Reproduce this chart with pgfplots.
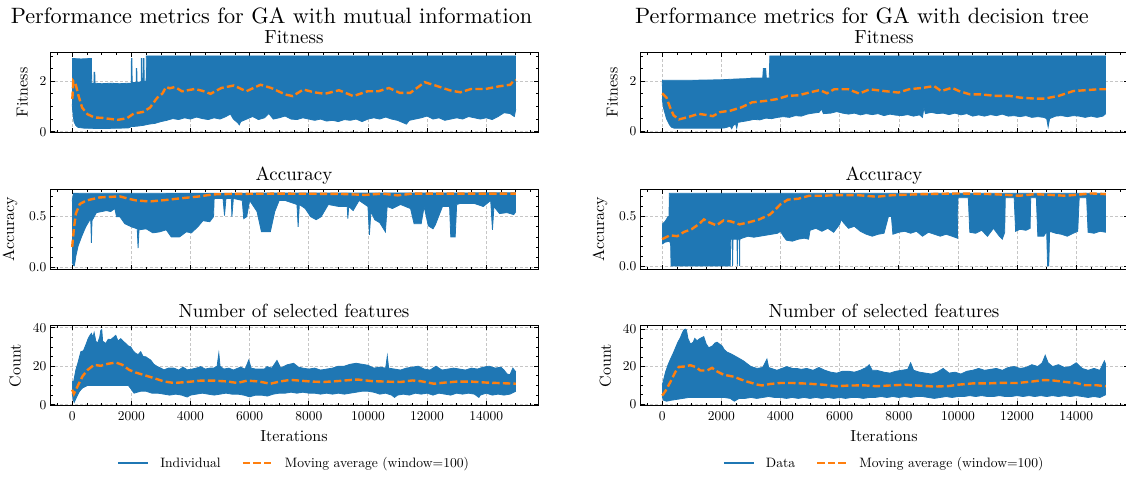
\documentclass[border=0pt]{standalone}
\DeclareFontFamily{TU}{lmten}{}
\DeclareFontShape{TU}{lmten}{m}{n}{<-> "[lmroman10-regular]"}{}
\renewcommand\rmdefault{lmten}
\usepackage{pgfplots}
\pgfplotsset{compat=1.18}
\usepgfplotslibrary{fillbetween}
\definecolor{tabblue}{HTML}{1F77B4}
\definecolor{taborange}{HTML}{FF7F0E}
\pgfplotsset{
 myax/.style={
  scale only axis, width=488pt, height=80pt,
  xmin=-750, xmax=15750,
  xtick={0,2000,...,14000},
  minor xtick={-500,0,...,15500},
  xticklabels={},
  scaled ticks=false,
  tick align=inside, xtick pos=both, ytick pos=both,
  major tick length=4.5pt, minor tick length=2.5pt,
  tick style={black, line width=0.7pt},
  axis line style={line width=0.9pt},
  xmajorgrids, ymajorgrids,
  major grid style={gray!45, dash pattern=on 3pt off 2pt, line width=0.6pt},
  tick label style={font=\fontsize{13.5}{16}\selectfont},
  label style={font=\fontsize{16}{19}\selectfont},
  ylabel shift=5pt, xlabel shift=3pt, xticklabel shift=2.5pt,
  every axis title/.style={at={(0.5,1)}, anchor=base, yshift=8.5pt, font=\fontsize{19}{22}\selectfont},
 },
 fitax/.style={myax, ytick={0,2}, yticklabels={0,2}, minor ytick={0,0.5,...,3}, ylabel={Fitness}, title={Fitness}},
 accax/.style={myax, ytick={0,0.5}, yticklabels={0.0,0.5}, minor ytick={0,0.1,...,0.7}, ylabel={Accuracy}, title={Accuracy}},
 cntax/.style={myax, ytick={0,20,40}, yticklabels={0,20,40}, minor ytick={0,5,...,40}, ylabel={Count}, title={Number of selected features},
   xticklabels={0,2000,4000,6000,8000,10000,12000,14000}, xlabel={Iterations},
   legend style={at={(0.5,-0.72)}, anchor=center, draw=none, fill=none, legend columns=2,
     font=\fontsize{13.6}{16}\selectfont, /tikz/every even column/.append style={column sep=19pt}},
   legend image code/.code={\draw[#1] (0pt,0pt) -- (30pt,0pt); \path (39pt,0pt);}},
 bl/.style={tabblue, line width=0.8pt, forget plot},
 ma/.style={taborange, line width=2.4pt, dash pattern=on 7.4pt off 3.2pt, forget plot},
}
\begin{document}
\begin{tikzpicture}
\node[font=\fontsize{22.2}{26}\selectfont, anchor=base] at (271.5pt,-23.5pt) {Performance metrics for GA with mutual information};
\node[font=\fontsize{22.2}{26}\selectfont, anchor=base] at (862pt,-23.5pt) {Performance metrics for GA with decision tree};

% ---------------- Left: Fitness
\begin{axis}[fitax, at={(50pt,-52.3pt)}, anchor=north west, ymin=-0.024, ymax=3.144]
\addplot[bl, name path=u] coordinates {(0,2.9)(300,2.88)(650,2.9)(660,1.92)(735,1.92)(742,2.35)(765,2.35)(772,1.92)(1000,1.9)(1300,1.92)(1600,1.9)(1890,1.92)(1995,1.92)(2003,2.9)(2020,2.9)(2028,1.95)(2165,1.95)(2171,2.5)(2185,2.5)(2192,1.95)(2335,1.98)(2340,2.9)(2358,2.9)(2365,2.0)(2405,2.0)(2413,2.9)(2428,2.9)(2435,2.0)(2500,2.0)(2508,3.0)(15000,3.0)};
\addplot[bl, name path=l] coordinates {(0,1.1)(20,0.8)(60,0.4)(120,0.25)(200,0.17)(400,0.14)(800,0.13)(1200,0.13)(1600,0.14)(1900,0.15)(2000,0.2)(2200,0.22)(2400,0.25)(2600,0.3)(2800,0.33)(3000,0.4)(3200,0.45)(3400,0.52)(3600,0.48)(3800,0.55)(4000,0.5)(4200,0.58)(4400,0.52)(4600,0.48)(4800,0.55)(5000,0.5)(5200,0.6)(5350,0.7)(5450,0.5)(5600,0.35)(5650,0.27)(5700,0.4)(5900,0.5)(6100,0.6)(6300,0.48)(6500,0.55)(6650,0.72)(6800,0.5)(7000,0.55)(7200,0.62)(7400,0.5)(7600,0.48)(7800,0.55)(8000,0.5)(8200,0.45)(8400,0.5)(8600,0.42)(8800,0.45)(9000,0.4)(9200,0.48)(9400,0.45)(9600,0.5)(9800,0.4)(10000,0.5)(10200,0.55)(10400,0.5)(10600,0.58)(10800,0.5)(11000,0.45)(11200,0.35)(11300,0.3)(11400,0.45)(11600,0.5)(11800,0.55)(12000,0.62)(12200,0.5)(12400,0.55)(12600,0.45)(12800,0.5)(13000,0.55)(13200,0.5)(13400,0.6)(13600,0.55)(13800,0.5)(14000,0.55)(14200,0.48)(14400,0.6)(14600,0.75)(14800,0.72)(14950,0.6)(15000,0.9)};
\addplot[tabblue, forget plot] fill between[of=u and l];
\addplot[ma] coordinates {(0,1.3)(12,1.41)(36,2.0)(121,1.86)(217,1.41)(338,0.95)(519,0.69)(760,0.56)(1000,0.55)(1182,0.52)(1544,0.47)(1846,0.53)(2087,0.72)(2388,0.78)(2630,0.95)(2871,1.34)(3052,1.51)(3172,1.77)(3300,1.72)(3474,1.77)(3715,1.60)(4138,1.69)(4400,1.62)(4680,1.5)(5042,1.73)(5464,1.83)(5887,1.60)(6369,1.86)(6731,1.73)(7214,1.47)(7455,1.41)(7817,1.67)(8179,1.56)(8540,1.50)(9023,1.64)(9505,1.41)(9988,1.60)(10350,1.60)(10712,1.73)(11074,1.54)(11435,1.54)(11918,1.96)(12280,1.83)(12762,1.64)(13124,1.56)(13486,1.69)(13969,1.69)(14451,1.80)(14813,1.86)(14934,2.03)(15000,2.05)};
\end{axis}

% ---------------- Left: Accuracy
\begin{axis}[accax, at={(50pt,-189.3pt)}, anchor=north west, ymin=-0.02, ymax=0.77]
\addplot[bl, name path=u] coordinates {(0,0.65)(40,0.73)(15000,0.735)};
\addplot[bl, name path=l] coordinates {(0,0.05)(40,0.02)(70,0.015)(100,0.06)(124,0.11)(200,0.21)(315,0.3)(400,0.36)(460,0.4)(580,0.46)(630,0.46)(650,0.24)(670,0.46)(820,0.54)(1000,0.55)(1160,0.56)(1300,0.55)(1442,0.58)(1500,0.5)(1610,0.5)(1780,0.43)(2000,0.4)(2200,0.38)(2228,0.19)(2260,0.37)(2500,0.38)(2730,0.34)(2960,0.35)(3180,0.37)(3350,0.3)(3630,0.3)(3860,0.35)(4030,0.34)(4250,0.4)(4420,0.46)(4650,0.45)(4780,0.5)(4800,0.68)(5100,0.68)(5150,0.51)(5200,0.68)(5380,0.68)(5400,0.5)(5450,0.68)(5750,0.66)(5800,0.48)(5900,0.5)(6000,0.66)(6250,0.55)(6400,0.35)(6700,0.35)(6850,0.55)(7000,0.66)(7200,0.66)(7600,0.62)(7640,0.40)(7680,0.62)(7880,0.58)(8060,0.5)(8250,0.47)(8420,0.5)(8660,0.62)(9020,0.6)(9300,0.6)(9320,0.48)(9350,0.6)(9500,0.56)(9700,0.66)(10000,0.6)(10050,0.32)(10100,0.55)(10230,0.47)(10400,0.44)(10590,0.35)(10650,0.6)(10830,0.58)(11100,0.62)(11440,0.58)(11560,0.43)(11800,0.43)(11900,0.6)(12040,0.41)(12200,0.38)(12280,0.42)(12520,0.6)(12760,0.6)(12800,0.3)(12950,0.3)(13000,0.62)(13120,0.63)(13600,0.63)(13900,0.6)(14150,0.66)(14210,0.37)(14260,0.6)(14450,0.53)(14700,0.54)(14930,0.52)(15000,0.55)};
\addplot[tabblue, forget plot] fill between[of=u and l];
\addplot[ma] coordinates {(0,0.2)(57,0.38)(124,0.53)(259,0.625)(484,0.66)(934,0.69)(1610,0.70)(2003,0.67)(2171,0.66)(2621,0.65)(3184,0.665)(3633,0.68)(4308,0.70)(4757,0.72)(5500,0.725)(7000,0.727)(9000,0.725)(9900,0.715)(10500,0.727)(11000,0.71)(11500,0.727)(13000,0.727)(15000,0.727)};
\end{axis}

% ---------------- Left: Count
\begin{axis}[cntax, at={(50pt,-325.7pt)}, anchor=north west, ymin=-0.5, ymax=41]
\addlegendimage{tabblue, line width=2.2pt}
\addlegendentry{Individual}
\addlegendimage{taborange, line width=2.2pt, dash pattern=on 7.4pt off 3.2pt}
\addlegendentry{Moving average (window=100)}
\addplot[bl, name path=u] coordinates {(0,12)(50,12)(123,18)(200,22)(292,27.5)(380,28)(460,31)(540,34.3)(600,36)(650,37)(700,35)(742,37.5)(800,33)(855,31.8)(930,35)(967,38.6)(1000,39)(1030,33)(1136,31.8)(1220,34)(1305,33.8)(1400,35)(1474,36)(1550,33)(1642,34.3)(1720,33)(1811,31.8)(1900,30.5)(1980,30)(2060,28)(2148,26.7)(2230,26)(2317,27.5)(2400,25)(2485,24.9)(2570,24)(2654,23.2)(2760,21)(2879,19.8)(3000,19)(3103,18.1)(3250,19)(3440,19)(3600,18)(3750,19.5)(3890,18.1)(4050,18.5)(4200,19)(4340,19.8)(4500,18.5)(4650,19)(4790,19)(4900,20)(4958,26.7)(5000,20)(5127,18.5)(5300,19)(5450,18)(5689,19.5)(5850,18.5)(5970,23.2)(6050,19)(6200,18.5)(6363,18.5)(6500,18.5)(6588,19.8)(6750,19)(6925,23)(7050,19)(7262,20.7)(7487,21.5)(7650,19.5)(7800,19)(8000,18.5)(8200,19)(8400,18)(8600,18.5)(8800,19)(9000,20)(9200,20)(9400,21)(9600,21.5)(9800,21)(10000,20.5)(10200,19)(10400,19.5)(10600,19)(10655,25.3)(10700,19)(10900,18.5)(11100,18)(11300,19)(11500,19.5)(11700,20)(11900,18.5)(12100,18)(12300,20)(12500,18)(12700,18.5)(12900,19)(13100,18.5)(13300,18)(13500,19)(13700,18.5)(13900,19.5)(14100,20)(14300,19)(14500,19.5)(14600,18)(14700,16)(14800,15.5)(14900,19)(15000,17)};
\addplot[bl, name path=l] coordinates {(0,6)(30,3)(67,1.2)(120,3)(180,5)(250,7)(348,8.7)(517,10)(1000,10)(1500,10)(1900,10)(2000,8)(2092,6)(2200,6.5)(2317,7)(2500,7)(2700,6)(2900,6)(3100,5.5)(3300,5)(3500,5.5)(3700,5)(3890,4)(4000,5)(4200,5.5)(4400,6)(4600,5.5)(4800,5)(5000,5.5)(5200,6)(5400,5.5)(5600,5.5)(5800,5)(6000,4.1)(6200,5)(6400,5)(6600,4.5)(6800,5.5)(7000,6)(7200,6)(7400,6.5)(7600,6)(7800,6.5)(8000,6)(8200,6)(8400,5.5)(8600,6)(8800,5.5)(9000,6)(9200,5.5)(9400,6)(9600,6.5)(9800,7)(10000,7)(10200,6.5)(10400,5.5)(10600,6)(10800,5)(10900,3.8)(11000,5)(11200,5.5)(11400,5)(11600,6)(11800,5.5)(12000,6)(12200,5)(12400,6)(12600,5.5)(12800,5)(13000,6)(13200,5.5)(13400,6)(13600,5.5)(13750,3.8)(13800,5)(14000,6)(14200,5)(14400,5.5)(14600,5)(14800,5.5)(15000,7)};
\addplot[tabblue, forget plot] fill between[of=u and l];
\addplot[ma] coordinates {(0,7.8)(57,5.6)(180,9.5)(348,14.7)(517,18)(742,20.7)(967,20.2)(1192,21.2)(1474,21.9)(1699,20.7)(1924,18.1)(2148,16.7)(2429,15.4)(2766,13.8)(3103,12.1)(3440,11.3)(3890,11.8)(4340,12.5)(4790,12.5)(5240,12.1)(5577,11.3)(5914,12.5)(6300,12.1)(6700,10.9)(7037,12.1)(7374,12.9)(7700,12.5)(8100,12)(8500,11.8)(9000,12.3)(9550,13)(9700,13)(10100,12.3)(10600,12)(11100,11.8)(11500,12.6)(11800,12.2)(12230,10.9)(12600,11.5)(13000,12)(13500,12)(14000,11.5)(14500,11.2)(15000,10.9)};
\end{axis}

% ---------------- Right: Fitness
\begin{axis}[fitax, at={(640pt,-52.3pt)}, anchor=north west, ymin=-0.045, ymax=3.145]
\addplot[bl, name path=u] coordinates {(0,1.8)(10,2.03)(1000,2.03)(2000,2.05)(2500,2.08)(2980,2.1)(3000,2.12)(3400,2.12)(3420,2.5)(3500,2.5)(3520,2.12)(3620,2.12)(3640,3.0)(15000,3.0)};
\addplot[bl, name path=l] coordinates {(0,1.28)(50,0.9)(145,0.5)(250,0.25)(325,0.15)(400,0.12)(1000,0.12)(1500,0.12)(2000,0.12)(2100,0.13)(2200,0.16)(2300,0.2)(2350,0.1)(2400,0.22)(2480,0.3)(2520,0.12)(2560,0.35)(2700,0.38)(2900,0.42)(3100,0.47)(3300,0.45)(3500,0.52)(3700,0.5)(3900,0.55)(4100,0.58)(4300,0.55)(4500,0.62)(4700,0.6)(4900,0.68)(5100,0.72)(5300,0.75)(5390,0.88)(5450,0.7)(5700,0.72)(5900,0.78)(6100,0.72)(6300,0.68)(6500,0.72)(6700,0.65)(6900,0.7)(7100,0.66)(7300,0.7)(7500,0.62)(7700,0.68)(7900,0.64)(8100,0.62)(8300,0.66)(8500,0.6)(8700,0.65)(8800,0.55)(8850,0.95)(8900,0.7)(9100,0.75)(9300,0.7)(9500,0.72)(9700,0.66)(9900,0.72)(10100,0.65)(10300,0.7)(10500,0.6)(10700,0.65)(10900,0.6)(11100,0.66)(11300,0.62)(11500,0.68)(11700,0.6)(11900,0.62)(12100,0.58)(12300,0.62)(12500,0.55)(12700,0.58)(12900,0.55)(13000,0.5)(13050,0.17)(13100,0.5)(13300,0.6)(13500,0.62)(13700,0.58)(13900,0.62)(14100,0.6)(14300,0.55)(14500,0.6)(14700,0.55)(14900,0.6)(15000,0.7)};
\addplot[tabblue, forget plot] fill between[of=u and l];
\addplot[ma] coordinates {(0,1.51)(145,1.34)(265,0.95)(386,0.63)(567,0.47)(869,0.56)(1230,0.69)(1472,0.65)(1713,0.6)(1954,0.76)(2316,0.82)(2678,0.95)(3040,1.15)(3522,1.21)(3884,1.28)(4246,1.41)(4608,1.43)(4970,1.54)(5332,1.64)(5573,1.51)(5814,1.67)(6297,1.67)(6659,1.5)(7021,1.67)(7503,1.6)(7986,1.54)(8347,1.67)(8830,1.73)(9192,1.8)(9433,1.6)(9795,1.73)(10036,1.6)(10398,1.47)(10760,1.47)(11243,1.41)(11725,1.41)(12087,1.34)(12570,1.30)(12932,1.3)(13414,1.41)(13897,1.6)(14379,1.64)(14741,1.67)(15000,1.67)};
\end{axis}

% ---------------- Right: Accuracy
\begin{axis}[accax, at={(640pt,-189.3pt)}, anchor=north west, ymin=-0.035, ymax=0.775]
\addplot[bl, name path=u] coordinates {(0,0.42)(100,0.45)(200,0.5)(232,0.5)(240,0.735)(15000,0.735)};
\addplot[bl, name path=l] coordinates {(0,0.22)(100,0.24)(250,0.25)(285,0.22)(300,0.0)(2300,0.0)(2320,0.27)(2370,0.27)(2380,0.0)(2395,0.27)(2530,0.27)(2540,0.0)(2555,0.27)(2610,0.27)(2618,0.0)(2626,0.27)(2700,0.28)(2900,0.3)(3100,0.29)(3300,0.3)(3500,0.31)(3700,0.32)(3900,0.33)(4000,0.35)(4100,0.3)(4200,0.26)(4400,0.25)(4600,0.27)(4800,0.28)(4950,0.27)(5000,0.36)(5200,0.38)(5400,0.35)(5600,0.38)(5800,0.34)(6000,0.42)(6050,0.47)(6150,0.43)(6300,0.38)(6500,0.4)(6700,0.35)(6900,0.32)(7100,0.3)(7300,0.32)(7500,0.33)(7650,0.5)(7750,0.5)(7800,0.32)(8000,0.34)(8200,0.35)(8400,0.33)(8600,0.35)(8800,0.3)(9000,0.34)(9200,0.32)(9400,0.3)(9600,0.32)(9800,0.3)(9980,0.28)(10000,0.69)(10350,0.69)(10400,0.34)(10600,0.33)(10800,0.36)(11000,0.3)(11200,0.38)(11400,0.3)(11500,0.27)(11580,0.34)(11600,0.69)(11900,0.69)(11950,0.35)(12100,0.37)(12300,0.36)(12440,0.38)(12460,0.69)(12650,0.69)(12700,0.3)(12900,0.3)(13000,0.35)(13030,0.0)(13070,0.0)(13100,0.35)(13300,0.33)(13500,0.32)(13700,0.3)(13900,0.33)(14050,0.35)(14100,0.69)(14350,0.69)(14400,0.34)(14600,0.33)(14800,0.35)(15000,0.34)};
\addplot[tabblue, forget plot] fill between[of=u and l];
\addplot[ma] coordinates {(0,0.27)(265,0.31)(507,0.30)(748,0.345)(990,0.37)(1230,0.42)(1411,0.47)(1592,0.44)(1834,0.41)(2075,0.46)(2316,0.45)(2618,0.42)(2919,0.44)(3281,0.47)(3643,0.52)(3824,0.57)(4005,0.625)(4246,0.67)(4608,0.68)(4970,0.71)(5452,0.71)(5935,0.716)(6600,0.716)(7260,0.70)(7800,0.716)(8830,0.726)(10036,0.733)(11200,0.726)(12087,0.71)(12600,0.726)(13655,0.71)(14500,0.733)(15000,0.726)};
\end{axis}

% ---------------- Right: Count
\begin{axis}[cntax, at={(640pt,-325.7pt)}, anchor=north west, ymin=-0.9, ymax=41.8]
\addlegendimage{tabblue, line width=2.2pt}
\addlegendentry{Data}
\addlegendimage{taborange, line width=2.2pt, dash pattern=on 7.4pt off 3.2pt}
\addlegendentry{Moving average (window=100)}
\addplot[bl, name path=u] coordinates {(0,10)(50,13)(112,17)(200,21)(281,24)(370,27)(450,30)(530,33)(618,35.5)(680,38)(730,39.5)(780,40)(820,39.5)(870,35)(955,32)(1050,33)(1100,35)(1180,33.8)(1280,35)(1405,36)(1490,32)(1574,30)(1700,31)(1780,32.5)(1855,33)(1940,32)(2024,31)(2100,29)(2192,27.7)(2300,27)(2417,26)(2530,25)(2642,24)(2750,23)(2866,21.6)(3000,20)(3204,19)(3400,19.5)(3541,24)(3600,19.5)(3878,18)(4050,19)(4215,20)(4400,19)(4553,19)(4700,18.5)(4890,19)(5100,18)(5300,19.5)(5500,18)(5700,17)(5901,16.5)(6100,17.5)(6300,17.5)(6500,17)(6700,18)(6900,19.5)(7000,21)(7100,18)(7250,18)(7500,17)(7700,16.5)(7900,17.5)(8100,18)(8300,18.5)(8400,22)(8500,18)(8700,17)(8900,16.5)(9100,16)(9300,17)(9500,19)(9700,16.5)(9900,17)(10100,16)(10300,17.5)(10500,18)(10700,19)(10900,18)(11100,18.5)(11300,19)(11500,18)(11700,19.5)(11900,20)(12100,19)(12300,19.5)(12500,21)(12700,20)(12850,22)(12950,26)(13050,22)(13200,20)(13400,21)(13600,19.5)(13800,20)(14000,22)(14200,19)(14400,18)(14600,19)(14800,18)(14950,23)(15000,21)};
\addplot[bl, name path=l] coordinates {(0,4)(50,2)(150,1.5)(300,2)(500,2.5)(700,3)(900,3.5)(1100,3.5)(1300,3.5)(1500,3.5)(1700,3.5)(1900,3.5)(2100,3.5)(2300,3)(2440,1.5)(2600,3)(2800,3)(3000,3.5)(3200,3)(3400,3.5)(3600,4)(3800,3.5)(4000,3.5)(4200,3)(4400,3.5)(4600,3)(4800,3.5)(5000,3)(5200,3.5)(5400,3)(5600,3.5)(5800,3)(6000,3.5)(6200,3)(6400,3.5)(6600,3.5)(6800,3)(7000,3.5)(7200,3.5)(7400,4)(7600,3.5)(7800,4)(8000,3.5)(8200,4)(8400,3.5)(8600,4)(8800,4)(9000,3.5)(9200,3)(9400,3.5)(9600,4)(9800,3.5)(10000,4)(10200,4)(10400,4.5)(10600,4)(10800,4.5)(11000,4)(11200,4)(11400,4.5)(11600,4)(11800,4)(12000,4.5)(12200,4)(12400,4.5)(12600,4)(12800,4.5)(13000,4)(13200,4.5)(13400,4)(13600,4.5)(13800,4)(14000,4.5)(14200,4)(14400,3.5)(14600,4)(14800,3.5)(15000,5)};
\addplot[tabblue, forget plot] fill between[of=u and l];
\addplot[ma] coordinates {(0,4.5)(112,7)(281,11.9)(450,17.2)(562,19.8)(730,20)(955,20.7)(1124,19.8)(1292,17.9)(1517,17.9)(1686,19.3)(1855,17.4)(2080,15.6)(2417,14.6)(2642,13.2)(2866,12)(3204,10.4)(3373,9.9)(3654,10.7)(3991,11.2)(4440,11.2)(4890,10.9)(5452,10.3)(5901,9.5)(6238,9.8)(6800,10)(7250,9.5)(7700,9.9)(8200,10.3)(8700,9.8)(9200,9.3)(9700,9.6)(10000,10.3)(10500,11)(11000,11)(11500,11.3)(12000,11.2)(12500,12)(12900,12.8)(13200,12.6)(13600,11.8)(14000,11.2)(14300,10)(14700,10)(15000,9.5)};
\end{axis}
\pgfresetboundingbox
\path[use as bounding box] (0pt,0pt) rectangle (1126pt,-477pt);
\end{tikzpicture}
\end{document}
